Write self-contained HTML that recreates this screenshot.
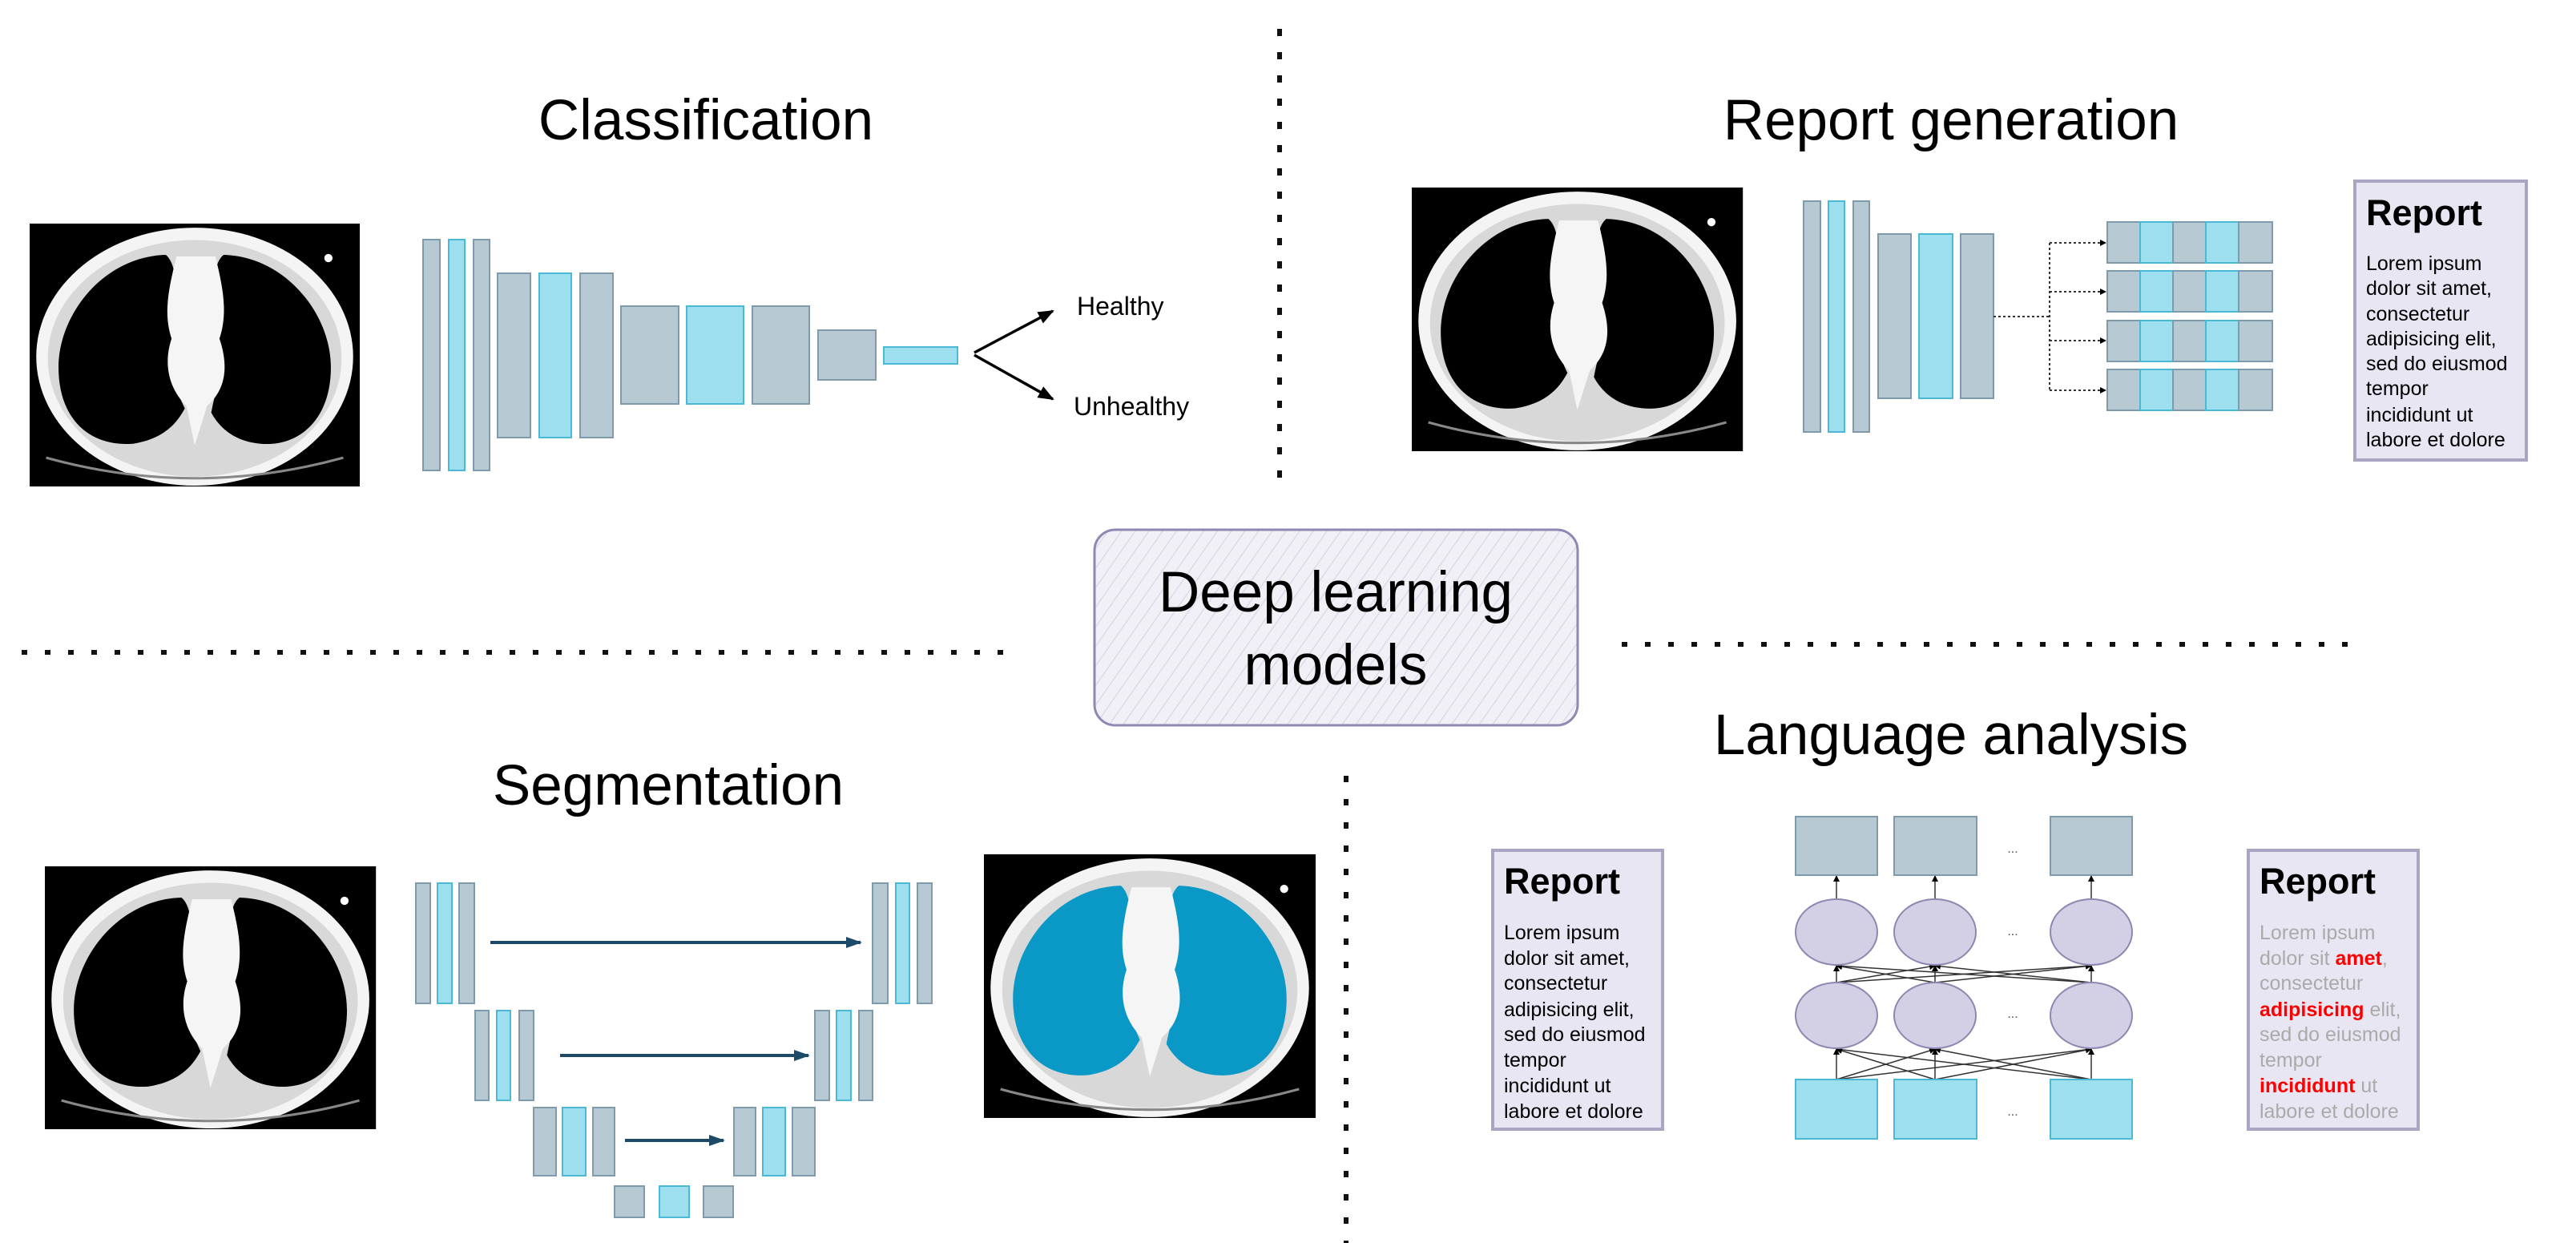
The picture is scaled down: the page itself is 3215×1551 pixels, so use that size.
<!DOCTYPE html>
<html><head><meta charset="utf-8"><style>
html,body{margin:0;padding:0;background:#fff;}
svg{display:block;}
text{font-family:"Liberation Sans",sans-serif;}
</style></head><body>
<svg width="3215" height="1551" viewBox="0 0 3215 1551" xmlns="http://www.w3.org/2000/svg">
<defs>
<pattern id="hatch" width="14" height="14" patternUnits="userSpaceOnUse" patternTransform="rotate(35)">
<rect width="14" height="14" fill="#f1f0f7"/>
<line x1="0" y1="0" x2="0" y2="14" stroke="#dcdae8" stroke-width="3"/>
</pattern>
<marker id="ah" markerWidth="8" markerHeight="8" refX="7" refY="4" orient="auto" markerUnits="userSpaceOnUse"><path d="M0,0 L8,4 L0,8 Z" fill="#000"/></marker>
<marker id="ahb" markerWidth="20" markerHeight="16" refX="18" refY="8" orient="auto" markerUnits="userSpaceOnUse"><path d="M0,0 L20,8 L0,16 Z" fill="#000"/></marker>
<marker id="ahd" markerWidth="20" markerHeight="16" refX="18" refY="8" orient="auto" markerUnits="userSpaceOnUse"><path d="M0,1 L20,8 L0,15 Z" fill="#1d4a66"/></marker>
<g id="ctbase">
<rect width="400" height="320" fill="#000"/>
<ellipse cx="200" cy="162" rx="192" ry="157" fill="#f4f4f4"/>
<ellipse cx="200" cy="164" rx="178" ry="144" fill="#d8d8d8"/>
<path d="M20,285 Q200,335 380,285" stroke="#888" stroke-width="3" fill="none"/>
</g>
<g id="lungs">
<path d="M165,38 C90,40 35,110 35,175 C35,240 75,272 125,268 C165,262 180,240 188,225 C172,190 162,160 180,130 C178,90 180,50 165,38 Z"/>
<path d="M235,38 C310,40 365,110 365,175 C365,240 325,272 280,268 C245,265 228,245 220,230 C228,190 240,160 222,130 C222,90 220,50 235,38 Z"/>
</g>
<g id="heart">
<path d="M178,40 C168,80 162,110 172,140 C162,170 168,200 190,222 L200,270 L215,222 C240,200 240,170 230,140 C240,110 235,80 225,40 Z" fill="#f5f5f5"/>
<circle cx="362" cy="42" r="5" fill="#fff"/>
</g>
<g id="ct"><use href="#ctbase"/><g fill="#000"><use href="#lungs"/></g><use href="#heart"/></g>
<g id="ctblue"><use href="#ctbase"/><g fill="#0a98c6"><use href="#lungs"/></g><use href="#heart"/></g>
</defs>

<g stroke="#111" stroke-width="6" fill="none">
<line x1="1597" y1="36" x2="1597" y2="610" stroke-dasharray="9 20"/>
<line x1="27" y1="814" x2="1268" y2="814" stroke-dasharray="7 22"/>
<line x1="2024" y1="804" x2="2946" y2="804" stroke-dasharray="7 22"/>
<line x1="1680" y1="968" x2="1680" y2="1551" stroke-dasharray="8 21"/>
</g>

<g font-size="71" fill="#000">
<text x="881" y="174" text-anchor="middle">Classification</text>
<text x="2435" y="174" text-anchor="middle">Report generation</text>
<text x="834" y="1004" text-anchor="middle">Segmentation</text>
<text x="2435" y="941" text-anchor="middle">Language analysis</text>
</g>

<rect x="1366" y="661" width="603" height="244" rx="26" fill="url(#hatch)" stroke="#8e89b2" stroke-width="3"/>
<text x="1667" y="763" font-size="71" text-anchor="middle">Deep learning</text>
<text x="1667" y="854" font-size="71" text-anchor="middle">models</text>

<use href="#ct" transform="translate(37,279) scale(1.03,1.025)"/>
<g stroke-width="2">
<rect x="528" y="299" width="21" height="288" fill="#b7c9d3" stroke="#7f9aab"/>
<rect x="560" y="299" width="20" height="288" fill="#9ddfef" stroke="#4bb8d6"/>
<rect x="591" y="299" width="20" height="288" fill="#b7c9d3" stroke="#7f9aab"/>
<rect x="621" y="341" width="41" height="205" fill="#b7c9d3" stroke="#7f9aab"/>
<rect x="673" y="341" width="40" height="205" fill="#9ddfef" stroke="#4bb8d6"/>
<rect x="724" y="341" width="41" height="205" fill="#b7c9d3" stroke="#7f9aab"/>
<rect x="775" y="382" width="72" height="122" fill="#b7c9d3" stroke="#7f9aab"/>
<rect x="857" y="382" width="71" height="122" fill="#9ddfef" stroke="#4bb8d6"/>
<rect x="939" y="382" width="71" height="122" fill="#b7c9d3" stroke="#7f9aab"/>
<rect x="1021" y="412" width="72" height="62" fill="#b7c9d3" stroke="#7f9aab"/>
<rect x="1103" y="433" width="92" height="21" fill="#9ddfef" stroke="#4bb8d6"/>
</g>
<g stroke="#000" stroke-width="3.5" fill="none">
<line x1="1216" y1="440" x2="1314" y2="388" marker-end="url(#ahb)"/>
<line x1="1216" y1="443" x2="1314" y2="498" marker-end="url(#ahb)"/>
</g>
<text x="1344" y="393" font-size="32">Healthy</text>
<text x="1340" y="518" font-size="32">Unhealthy</text>

<use href="#ct" transform="translate(1762,234) scale(1.033,1.028)"/>
<g stroke-width="2">
<rect x="2251" y="251" width="21" height="288" fill="#b7c9d3" stroke="#7f9aab"/>
<rect x="2282" y="251" width="20" height="288" fill="#9ddfef" stroke="#4bb8d6"/>
<rect x="2313" y="251" width="20" height="288" fill="#b7c9d3" stroke="#7f9aab"/>
<rect x="2344" y="292" width="41" height="205" fill="#b7c9d3" stroke="#7f9aab"/>
<rect x="2395" y="292" width="42" height="205" fill="#9ddfef" stroke="#4bb8d6"/>
<rect x="2447" y="292" width="41" height="205" fill="#b7c9d3" stroke="#7f9aab"/>
</g>
<g stroke="#333" stroke-width="2" fill="none" stroke-dasharray="3 3">
<line x1="2488" y1="395" x2="2558" y2="395"/>
<line x1="2558" y1="303" x2="2558" y2="487"/>
<line x1="2558" y1="303" x2="2628" y2="303" marker-end="url(#ah)"/>
<line x1="2558" y1="364" x2="2628" y2="364" marker-end="url(#ah)"/>
<line x1="2558" y1="425" x2="2628" y2="425" marker-end="url(#ah)"/>
<line x1="2558" y1="487" x2="2628" y2="487" marker-end="url(#ah)"/>
</g>
<g stroke-width="2">
<g id="tokrow">
<rect x="2630" y="277" width="41" height="51" fill="#b7c9d3" stroke="#7f9aab"/>
<rect x="2671" y="277" width="41" height="51" fill="#9ddfef" stroke="#4bb8d6"/>
<rect x="2712" y="277" width="41" height="51" fill="#b7c9d3" stroke="#7f9aab"/>
<rect x="2753" y="277" width="41" height="51" fill="#9ddfef" stroke="#4bb8d6"/>
<rect x="2794" y="277" width="42" height="51" fill="#b7c9d3" stroke="#7f9aab"/>
</g>
<use href="#tokrow" y="61"/>
<use href="#tokrow" y="123"/>
<use href="#tokrow" y="184"/>
</g>
<rect x="2939" y="226" width="214" height="348" fill="#e8e6f2" stroke="#a9a6c4" stroke-width="4"/>
<text x="2953" y="281" font-size="45" font-weight="bold">Report</text>
<g font-size="25" fill="#000">
<text x="2953" y="337">Lorem ipsum</text>
<text x="2953" y="368">dolor sit amet,</text>
<text x="2953" y="400">consectetur</text>
<text x="2953" y="431">adipisicing elit,</text>
<text x="2953" y="462">sed do eiusmod</text>
<text x="2953" y="493">tempor</text>
<text x="2953" y="526">incididunt ut</text>
<text x="2953" y="557">labore et dolore</text>
</g>

<use href="#ct" transform="translate(56,1081) scale(1.033,1.025)"/>
<use href="#ctblue" transform="translate(1228,1066) scale(1.035,1.028)"/>
<g stroke-width="2">
<rect x="519" y="1102" width="18" height="150" fill="#b7c9d3" stroke="#7f9aab"/>
<rect x="546" y="1102" width="18" height="150" fill="#9ddfef" stroke="#4bb8d6"/>
<rect x="573" y="1102" width="19" height="150" fill="#b7c9d3" stroke="#7f9aab"/>
<rect x="1089" y="1102" width="19" height="150" fill="#b7c9d3" stroke="#7f9aab"/>
<rect x="1118" y="1102" width="17" height="150" fill="#9ddfef" stroke="#4bb8d6"/>
<rect x="1145" y="1102" width="18" height="150" fill="#b7c9d3" stroke="#7f9aab"/>
<rect x="593" y="1261" width="17" height="112" fill="#b7c9d3" stroke="#7f9aab"/>
<rect x="620" y="1261" width="17" height="112" fill="#9ddfef" stroke="#4bb8d6"/>
<rect x="648" y="1261" width="18" height="112" fill="#b7c9d3" stroke="#7f9aab"/>
<rect x="1017" y="1261" width="18" height="112" fill="#b7c9d3" stroke="#7f9aab"/>
<rect x="1044" y="1261" width="18" height="112" fill="#9ddfef" stroke="#4bb8d6"/>
<rect x="1072" y="1261" width="17" height="112" fill="#b7c9d3" stroke="#7f9aab"/>
<rect x="666" y="1382" width="28" height="85" fill="#b7c9d3" stroke="#7f9aab"/>
<rect x="702" y="1382" width="29" height="85" fill="#9ddfef" stroke="#4bb8d6"/>
<rect x="740" y="1382" width="27" height="85" fill="#b7c9d3" stroke="#7f9aab"/>
<rect x="916" y="1382" width="27" height="85" fill="#b7c9d3" stroke="#7f9aab"/>
<rect x="952" y="1382" width="28" height="85" fill="#9ddfef" stroke="#4bb8d6"/>
<rect x="989" y="1382" width="28" height="85" fill="#b7c9d3" stroke="#7f9aab"/>
<rect x="767" y="1480" width="37" height="39" fill="#b7c9d3" stroke="#7f9aab"/>
<rect x="823" y="1480" width="37" height="39" fill="#9ddfef" stroke="#4bb8d6"/>
<rect x="878" y="1480" width="37" height="39" fill="#b7c9d3" stroke="#7f9aab"/>
</g>
<g stroke="#1d4a66" stroke-width="4" fill="none">
<line x1="612" y1="1176" x2="1074" y2="1176" marker-end="url(#ahd)"/>
<line x1="699" y1="1317" x2="1009" y2="1317" marker-end="url(#ahd)"/>
<line x1="780" y1="1423" x2="903" y2="1423" marker-end="url(#ahd)"/>
</g>

<rect x="1863" y="1061" width="212" height="348" fill="#e8e6f2" stroke="#a9a6c4" stroke-width="4"/>
<text x="1877" y="1115" font-size="45" font-weight="bold">Report</text>
<g font-size="25" fill="#000">
<text x="1877" y="1172">Lorem ipsum</text>
<text x="1877" y="1204">dolor sit amet,</text>
<text x="1877" y="1235">consectetur</text>
<text x="1877" y="1268">adipisicing elit,</text>
<text x="1877" y="1299">sed do eiusmod</text>
<text x="1877" y="1331">tempor</text>
<text x="1877" y="1363">incididunt ut</text>
<text x="1877" y="1395">labore et dolore</text>
</g>
<rect x="2806" y="1061" width="212" height="348" fill="#e8e6f2" stroke="#a9a6c4" stroke-width="4"/>
<text x="2820" y="1115" font-size="45" font-weight="bold">Report</text>
<g font-size="25" fill="#aaa">
<text x="2820" y="1172">Lorem ipsum</text>
<text x="2820" y="1204">dolor sit <tspan fill="#f00" font-weight="bold">amet</tspan>,</text>
<text x="2820" y="1235">consectetur</text>
<text x="2820" y="1268"><tspan fill="#f00" font-weight="bold">adipisicing</tspan> elit,</text>
<text x="2820" y="1299">sed do eiusmod</text>
<text x="2820" y="1331">tempor</text>
<text x="2820" y="1363"><tspan fill="#f00" font-weight="bold">incididunt</tspan> ut</text>
<text x="2820" y="1395">labore et dolore</text>
</g>
<g stroke="#333" stroke-width="1.5" fill="none">
<g marker-end="url(#ah)">
<line x1="2292" y1="1347" x2="2292" y2="1309"/><line x1="2292" y1="1347" x2="2415" y2="1309"/><line x1="2292" y1="1347" x2="2610" y2="1309"/>
<line x1="2415" y1="1347" x2="2292" y2="1309"/><line x1="2415" y1="1347" x2="2415" y2="1309"/><line x1="2415" y1="1347" x2="2610" y2="1309"/>
<line x1="2610" y1="1347" x2="2292" y2="1309"/><line x1="2610" y1="1347" x2="2415" y2="1309"/><line x1="2610" y1="1347" x2="2610" y2="1309"/>
<line x1="2292" y1="1226" x2="2292" y2="1205"/><line x1="2292" y1="1226" x2="2415" y2="1205"/><line x1="2292" y1="1226" x2="2610" y2="1205"/>
<line x1="2415" y1="1226" x2="2292" y2="1205"/><line x1="2415" y1="1226" x2="2415" y2="1205"/><line x1="2415" y1="1226" x2="2610" y2="1205"/>
<line x1="2610" y1="1226" x2="2292" y2="1205"/><line x1="2610" y1="1226" x2="2415" y2="1205"/><line x1="2610" y1="1226" x2="2610" y2="1205"/>
<line x1="2292" y1="1122" x2="2292" y2="1093"/><line x1="2415" y1="1122" x2="2415" y2="1093"/><line x1="2610" y1="1122" x2="2610" y2="1093"/>
</g></g>
<g stroke-width="2">
<rect x="2241" y="1019" width="102" height="73" fill="#b7c9d3" stroke="#7f9aab"/>
<rect x="2364" y="1019" width="103" height="73" fill="#b7c9d3" stroke="#7f9aab"/>
<rect x="2559" y="1019" width="102" height="73" fill="#b7c9d3" stroke="#7f9aab"/>
<rect x="2241" y="1347" width="102" height="74" fill="#9ddfef" stroke="#4bb8d6"/>
<rect x="2364" y="1347" width="103" height="74" fill="#9ddfef" stroke="#4bb8d6"/>
<rect x="2559" y="1347" width="102" height="74" fill="#9ddfef" stroke="#4bb8d6"/>
<g fill="#d3d0e6" stroke="#8e88b0">
<ellipse cx="2292" cy="1163" rx="51" ry="41"/><ellipse cx="2415" cy="1163" rx="51" ry="41"/><ellipse cx="2610" cy="1163" rx="51" ry="41"/>
<ellipse cx="2292" cy="1267" rx="51" ry="41"/><ellipse cx="2415" cy="1267" rx="51" ry="41"/><ellipse cx="2610" cy="1267" rx="51" ry="41"/>
</g>
</g>
<g font-size="16" fill="#555" text-anchor="middle">
<text x="2512" y="1064">...</text><text x="2512" y="1167">...</text><text x="2512" y="1270">...</text><text x="2512" y="1392">...</text>
</g>
</svg>
</body></html>
